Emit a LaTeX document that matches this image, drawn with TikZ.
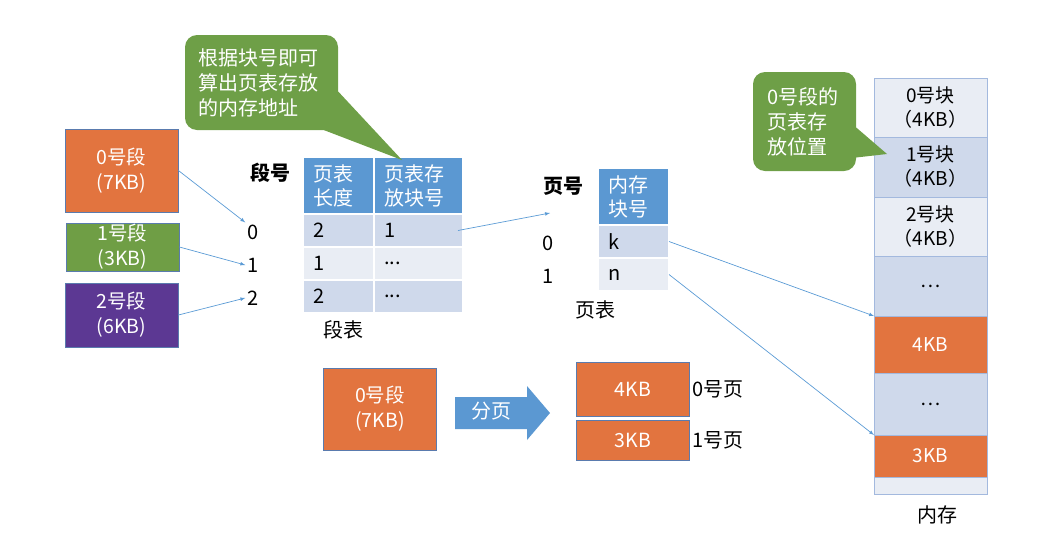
\documentclass[tikz,border=0pt]{standalone}
\usepackage{fontspec}
\setmainfont{Noto Sans CJK SC}
\usetikzlibrary{positioning}

\definecolor{segorange}{HTML}{E2743F}
\definecolor{seggreen}{HTML}{6F9E45}
\definecolor{segpurple}{HTML}{5C3893}
\definecolor{headblue}{HTML}{5B98D2}
\definecolor{celldark}{HTML}{CFD9EB}
\definecolor{celllight}{HTML}{E9EDF4}
\definecolor{notegreen}{HTML}{6E9F47}
\definecolor{linkblue}{HTML}{5B9BD5}
\definecolor{boxedge}{HTML}{5A7BAE}
\definecolor{memedge}{HTML}{A3B9DE}

\tikzset{
  >=latex,
  segbox/.style={rectangle, draw=boxedge, line width=0.8pt, text=white, align=center,
    minimum width=113pt, inner sep=0pt, font=\fontsize{19.5}{25}\selectfont},
  tabcell/.style={rectangle, draw=white, line width=1.5pt, outer sep=0pt, inner xsep=10pt,
    inner ysep=0pt, align=left, font=\fontsize{20}{24}\selectfont},
  tabhead/.style={tabcell, fill=headblue, text=white, minimum height=57pt},
  rowdark/.style={tabcell, fill=celldark, minimum height=33pt},
  rowlight/.style={tabcell, fill=celllight, minimum height=33pt},
  narrow/.style={text width=51pt},
  wide/.style={text width=69pt},
  memcell/.style={rectangle, draw=memedge, line width=0.8pt, outer sep=0pt, inner sep=0pt,
    minimum width=113pt, align=center, font=\fontsize{19}{24}\selectfont},
  notebox/.style={rectangle, rounded corners=12pt, fill=notegreen, text=white, align=left,
    inner ysep=0pt, font=\fontsize{20}{25}\selectfont},
  lbl/.style={inner sep=2pt, font=\fontsize{20}{24}\selectfont},
  link/.style={->, linkblue, line width=0.7pt},
}

\begin{document}
\begin{tikzpicture}[x=1pt, y=-1pt]
\useasboundingbox (0,0) rectangle (1052,555);

% segments
\node[segbox, fill=segorange, minimum height=83pt] (seg0) at (121.5,170.5) {0号段\\(7KB)};
\node[segbox, fill=seggreen, minimum height=48pt] (seg1) at (122.5,247) {1号段\\(3KB)};
\node[segbox, fill=segpurple, minimum height=64pt] (seg2) at (121.5,315) {2号段\\(6KB)};

% segment table
\node[lbl, font=\fontsize{20}{24}\selectfont\bfseries] (segno) at (270,173) {段号};
\node[tabhead, narrow, anchor=north west] (sh0) at (303,157) {页表\\长度};
\node[tabhead, wide, right=0pt of sh0] (sh1) {页表存\\放块号};
\node[rowdark, narrow, below=0pt of sh0] (s00) {2};
\node[rowdark, wide, below=0pt of sh1] (s01) {1};
\node[rowlight, narrow, below=0pt of s00] (s10) {1};
\node[rowlight, wide, below=0pt of s01] (s11) {...};
\node[rowdark, narrow, below=0pt of s10] (s20) {2};
\node[rowdark, wide, below=0pt of s11] (s21) {...};
\node[lbl] (n0) at (253,232) {0};
\node[lbl] (n1) at (253,265) {1};
\node[lbl] (n2) at (253,298) {2};
\node[lbl] (segtab) at (343,330) {段表};

\draw[link] (seg0.east) -- (n0.north west);
\draw[link] (seg1.east) -- (n1.west);
\draw[link] (seg2.east) -- (n2.west);

% note on the table
\node[notebox, text width=127pt, inner xsep=13pt, minimum height=95pt] (note1) at (261.5,82.5)
  {根据块号即可\\算出页表存放\\的内存地址};
\coordinate (note1tip) at (402,160);
\fill[notegreen] ([yshift=-9pt]note1.east) -- (note1tip) -- ([xshift=-14pt]note1.south east)
  -- ([xshift=-14pt,yshift=-9pt]note1.east) -- cycle;

% page table
\node[lbl, font=\fontsize{20}{24}\selectfont\bfseries] (pgno) at (563,186) {页号};
\node[tabhead, narrow, anchor=north west] (ph) at (598,168) {内存\\块号};
\node[rowdark, narrow, below=0pt of ph] (pk) {k};
\node[rowlight, narrow, below=0pt of pk] (pn) {n};
\node[lbl] (p0) at (548,243) {0};
\node[lbl] (p1) at (548,276) {1};
\node[lbl] (pgtab) at (595,310) {页表};
\coordinate (pgin) at (550,213);
\draw[link] ([xshift=-5pt]s01.east) -- (pgin);

% memory
\node[memcell, fill=celllight, minimum height=59pt, anchor=north west] (m0) at (874,78) {0号块\\（4KB）};
\node[memcell, fill=celldark, minimum height=60pt, below=0pt of m0] (m1) {1号块\\（4KB）};
\node[memcell, fill=celllight, minimum height=59pt, below=0pt of m1] (m2) {2号块\\（4KB）};
\node[memcell, fill=celldark, minimum height=60pt, below=0pt of m2] (m3) {…};
\node[memcell, fill=segorange, text=white, minimum height=57pt, below=0pt of m3] (m4) {4KB};
\node[memcell, fill=celldark, minimum height=62pt, below=0pt of m4] (m5) {…};
\node[memcell, fill=segorange, text=white, minimum height=42pt, below=0pt of m5] (m6) {3KB};
\node[memcell, fill=celllight, minimum height=17pt, below=0pt of m6] (m7) {};
\node[lbl] (memlbl) at (937,515) {内存};

\draw[link] (pk.east) -- (m4.north west);
\draw[link] (pn.east) -- (m6.north west);

% note on the memory
\node[notebox, text width=75pt, inner xsep=14pt, minimum height=99pt] (note2) at (804.5,121.5)
  {0号段的\\页表存\\放位置};
\coordinate (note2tip) at (887,154);
\fill[notegreen] ([yshift=-6pt]note2.east) -- (note2tip) -- ([yshift=-36pt]note2.east)
  -- ([xshift=-8pt,yshift=-36pt]note2.east) -- ([xshift=-8pt,yshift=-6pt]note2.east) -- cycle;

% paging of segment 0
\node[segbox, fill=segorange, minimum height=82pt] (seg0b) at (380,409) {0号段\\(7KB)};
\coordinate (splitat) at (455,413);
\fill[headblue] (splitat) ++(0,-16) -- ++(72,0) -- ++(0,-11) -- ++(23,27) -- ++(-23,27)
  -- ++(0,-11) -- ++(-72,0) -- cycle;
\node[lbl, text=white] (splitlbl) at (491,411) {分页};
\node[segbox, fill=segorange, minimum height=54pt] (pg0box) at (633,389) {4KB};
\node[segbox, fill=segorange, minimum height=40pt] (pg1box) at (633,440) {3KB};
\node[lbl, right=0pt of pg0box] (pg0lbl) {0号页};
\node[lbl, right=0pt of pg1box] (pg1lbl) {1号页};
\end{tikzpicture}
\end{document}
